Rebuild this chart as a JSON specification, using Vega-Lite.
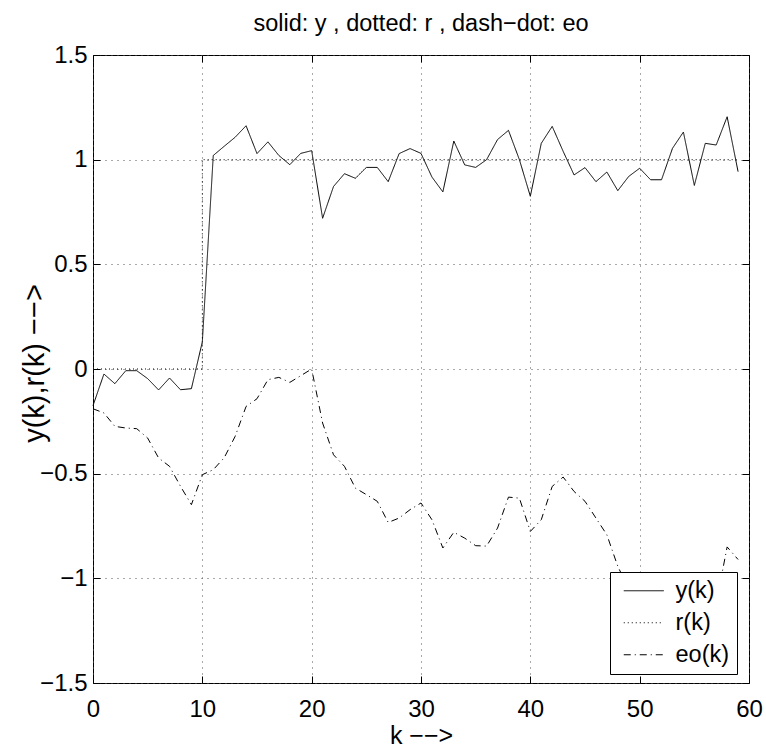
{
  "$schema": "https://vega.github.io/schema/vega-lite/v6.json",
  "width": 656,
  "height": 628,
  "autosize": {"type": "none"},
  "padding": {"left": 93, "top": 55, "right": 17, "bottom": 66},
  "background": "white",
  "title": {"text": "solid: y , dotted: r , dash\u2212dot: eo", "fontSize": 23.5, "font": "Liberation Sans", "fontWeight": "normal", "color": "black", "offset": 8, "anchor": "middle"},
  "config": {
    "font": "Liberation Sans",
    "view": {"stroke": "black", "strokeWidth": 1},
    "axis": {
      "domain": false,
      "tickColor": "black",
      "tickSize": -7,
      "labelFontSize": 24,
      "labelColor": "black",
      "labelFont": "Liberation Sans",
      "titleFont": "Liberation Sans",
      "titleFontSize": 25,
      "titleFontWeight": "normal",
      "titleColor": "black",
      "gridColor": "#555555",
      "gridDash": [1, 5],
      "gridWidth": 1
    }
  },
  "datasets": {
    "series": [
      {"k":0,"series":"y(k)","value":-0.175},{"k":1,"series":"y(k)","value":-0.024},{"k":2,"series":"y(k)","value":-0.07},{"k":3,"series":"y(k)","value":-0.008},{"k":4,"series":"y(k)","value":-0.008},{"k":5,"series":"y(k)","value":-0.046},{"k":6,"series":"y(k)","value":-0.1},{"k":7,"series":"y(k)","value":-0.043},{"k":8,"series":"y(k)","value":-0.099},{"k":9,"series":"y(k)","value":-0.094},
      {"k":10,"series":"y(k)","value":0.13},{"k":11,"series":"y(k)","value":1.02},{"k":12,"series":"y(k)","value":1.064},{"k":13,"series":"y(k)","value":1.107},{"k":14,"series":"y(k)","value":1.162},{"k":15,"series":"y(k)","value":1.029},{"k":16,"series":"y(k)","value":1.085},{"k":17,"series":"y(k)","value":1.02},{"k":18,"series":"y(k)","value":0.976},{"k":19,"series":"y(k)","value":1.03},
      {"k":20,"series":"y(k)","value":1.043},{"k":21,"series":"y(k)","value":0.72},{"k":22,"series":"y(k)","value":0.872},{"k":23,"series":"y(k)","value":0.933},{"k":24,"series":"y(k)","value":0.911},{"k":25,"series":"y(k)","value":0.963},{"k":26,"series":"y(k)","value":0.963},{"k":27,"series":"y(k)","value":0.895},{"k":28,"series":"y(k)","value":1.029},{"k":29,"series":"y(k)","value":1.053},
      {"k":30,"series":"y(k)","value":1.03},{"k":31,"series":"y(k)","value":0.917},{"k":32,"series":"y(k)","value":0.846},{"k":33,"series":"y(k)","value":1.089},{"k":34,"series":"y(k)","value":0.975},{"k":35,"series":"y(k)","value":0.963},{"k":36,"series":"y(k)","value":1.0},{"k":37,"series":"y(k)","value":1.096},{"k":38,"series":"y(k)","value":1.14},{"k":39,"series":"y(k)","value":1.0},
      {"k":40,"series":"y(k)","value":0.825},{"k":41,"series":"y(k)","value":1.078},{"k":42,"series":"y(k)","value":1.159},{"k":43,"series":"y(k)","value":1.04},{"k":44,"series":"y(k)","value":0.927},{"k":45,"series":"y(k)","value":0.962},{"k":46,"series":"y(k)","value":0.895},{"k":47,"series":"y(k)","value":0.941},{"k":48,"series":"y(k)","value":0.852},{"k":49,"series":"y(k)","value":0.92},
      {"k":50,"series":"y(k)","value":0.959},{"k":51,"series":"y(k)","value":0.904},{"k":52,"series":"y(k)","value":0.904},{"k":53,"series":"y(k)","value":1.054},{"k":54,"series":"y(k)","value":1.132},{"k":55,"series":"y(k)","value":0.877},{"k":56,"series":"y(k)","value":1.078},{"k":57,"series":"y(k)","value":1.07},{"k":58,"series":"y(k)","value":1.205},{"k":59,"series":"y(k)","value":0.943},
      {"k":0,"series":"eo(k)","value":-0.19},{"k":1,"series":"eo(k)","value":-0.21},{"k":2,"series":"eo(k)","value":-0.274},{"k":3,"series":"eo(k)","value":-0.282},{"k":4,"series":"eo(k)","value":-0.285},{"k":5,"series":"eo(k)","value":-0.33},{"k":6,"series":"eo(k)","value":-0.425},{"k":7,"series":"eo(k)","value":-0.465},{"k":8,"series":"eo(k)","value":-0.56},{"k":9,"series":"eo(k)","value":-0.648},
      {"k":10,"series":"eo(k)","value":-0.505},{"k":11,"series":"eo(k)","value":-0.481},{"k":12,"series":"eo(k)","value":-0.424},{"k":13,"series":"eo(k)","value":-0.322},{"k":14,"series":"eo(k)","value":-0.179},{"k":15,"series":"eo(k)","value":-0.142},{"k":16,"series":"eo(k)","value":-0.051},{"k":17,"series":"eo(k)","value":-0.04},{"k":18,"series":"eo(k)","value":-0.064},{"k":19,"series":"eo(k)","value":-0.032},
      {"k":20,"series":"eo(k)","value":0.0},{"k":21,"series":"eo(k)","value":-0.258},{"k":22,"series":"eo(k)","value":-0.41},{"k":23,"series":"eo(k)","value":-0.465},{"k":24,"series":"eo(k)","value":-0.569},{"k":25,"series":"eo(k)","value":-0.6},{"k":26,"series":"eo(k)","value":-0.632},{"k":27,"series":"eo(k)","value":-0.733},{"k":28,"series":"eo(k)","value":-0.712},{"k":29,"series":"eo(k)","value":-0.672},
      {"k":30,"series":"eo(k)","value":-0.64},{"k":31,"series":"eo(k)","value":-0.72},{"k":32,"series":"eo(k)","value":-0.855},{"k":33,"series":"eo(k)","value":-0.78},{"k":34,"series":"eo(k)","value":-0.808},{"k":35,"series":"eo(k)","value":-0.844},{"k":36,"series":"eo(k)","value":-0.846},{"k":37,"series":"eo(k)","value":-0.76},{"k":38,"series":"eo(k)","value":-0.612},{"k":39,"series":"eo(k)","value":-0.617},
      {"k":40,"series":"eo(k)","value":-0.776},{"k":41,"series":"eo(k)","value":-0.72},{"k":42,"series":"eo(k)","value":-0.561},{"k":43,"series":"eo(k)","value":-0.516},{"k":44,"series":"eo(k)","value":-0.585},{"k":45,"series":"eo(k)","value":-0.632},{"k":46,"series":"eo(k)","value":-0.712},{"k":47,"series":"eo(k)","value":-0.792},{"k":48,"series":"eo(k)","value":-0.943},{"k":49,"series":"eo(k)","value":-1.05},
      {"k":50,"series":"eo(k)","value":-1.1},{"k":51,"series":"eo(k)","value":-1.12},{"k":52,"series":"eo(k)","value":-1.08},{"k":53,"series":"eo(k)","value":-1.1},{"k":54,"series":"eo(k)","value":-1.15},{"k":55,"series":"eo(k)","value":-1.1},{"k":56,"series":"eo(k)","value":-1.05},{"k":57,"series":"eo(k)","value":-1.12},{"k":58,"series":"eo(k)","value":-0.85},{"k":59,"series":"eo(k)","value":-0.91},
      {"k":0,"series":"r(k)","value":0},{"k":1,"series":"r(k)","value":0},{"k":2,"series":"r(k)","value":0},{"k":3,"series":"r(k)","value":0},{"k":4,"series":"r(k)","value":0},{"k":5,"series":"r(k)","value":0},{"k":6,"series":"r(k)","value":0},{"k":7,"series":"r(k)","value":0},{"k":8,"series":"r(k)","value":0},{"k":9,"series":"r(k)","value":0},
      {"k":10,"series":"r(k)","value":1},{"k":11,"series":"r(k)","value":1},{"k":12,"series":"r(k)","value":1},{"k":13,"series":"r(k)","value":1},{"k":14,"series":"r(k)","value":1},{"k":15,"series":"r(k)","value":1},{"k":16,"series":"r(k)","value":1},{"k":17,"series":"r(k)","value":1},{"k":18,"series":"r(k)","value":1},{"k":19,"series":"r(k)","value":1},
      {"k":20,"series":"r(k)","value":1},{"k":21,"series":"r(k)","value":1},{"k":22,"series":"r(k)","value":1},{"k":23,"series":"r(k)","value":1},{"k":24,"series":"r(k)","value":1},{"k":25,"series":"r(k)","value":1},{"k":26,"series":"r(k)","value":1},{"k":27,"series":"r(k)","value":1},{"k":28,"series":"r(k)","value":1},{"k":29,"series":"r(k)","value":1},
      {"k":30,"series":"r(k)","value":1},{"k":31,"series":"r(k)","value":1},{"k":32,"series":"r(k)","value":1},{"k":33,"series":"r(k)","value":1},{"k":34,"series":"r(k)","value":1},{"k":35,"series":"r(k)","value":1},{"k":36,"series":"r(k)","value":1},{"k":37,"series":"r(k)","value":1},{"k":38,"series":"r(k)","value":1},{"k":39,"series":"r(k)","value":1},
      {"k":40,"series":"r(k)","value":1},{"k":41,"series":"r(k)","value":1},{"k":42,"series":"r(k)","value":1},{"k":43,"series":"r(k)","value":1},{"k":44,"series":"r(k)","value":1},{"k":45,"series":"r(k)","value":1},{"k":46,"series":"r(k)","value":1},{"k":47,"series":"r(k)","value":1},{"k":48,"series":"r(k)","value":1},{"k":49,"series":"r(k)","value":1},
      {"k":50,"series":"r(k)","value":1},{"k":51,"series":"r(k)","value":1},{"k":52,"series":"r(k)","value":1},{"k":53,"series":"r(k)","value":1},{"k":54,"series":"r(k)","value":1},{"k":55,"series":"r(k)","value":1},{"k":56,"series":"r(k)","value":1},{"k":57,"series":"r(k)","value":1},{"k":58,"series":"r(k)","value":1},{"k":59,"series":"r(k)","value":1}
    ]
  },
  "data": {"name": "series"},
  "layer": [
    {
      "transform": [{"filter": "datum.series === 'r(k)'"}],
      "mark": {"type": "line", "interpolate": "step-after", "color": "black", "strokeWidth": 1},
      "encoding": {
        "x": {"field": "k", "type": "quantitative", "scale": {"domain": [0, 60], "nice": false},
              "axis": {"orient": "top", "values": [0,10,20,30,40,50,60], "labels": false, "title": null, "grid": false}},
        "y": {"field": "value", "type": "quantitative", "scale": {"domain": [-1.5, 1.5], "nice": false},
              "axis": {"orient": "right", "values": [-1.5,-1,-0.5,0,0.5,1,1.5], "labels": false, "title": null, "grid": false}},
        "strokeDash": {"field": "series", "type": "nominal",
              "scale": {"domain": ["y(k)", "r(k)", "eo(k)"], "range": [[1, 0], [1, 3], [7, 4, 1, 4]]}}
      }
    },
    {
      "transform": [{"filter": "datum.series !== 'r(k)'"}],
      "mark": {"type": "line", "color": "black", "strokeWidth": 1},
      "encoding": {
        "x": {"field": "k", "type": "quantitative", "scale": {"domain": [0, 60], "nice": false},
              "axis": {"orient": "bottom", "values": [0,10,20,30,40,50,60], "title": "k  \u2212\u2212>", "labelPadding": 21, "titlePadding": 2, "labelFlush": false, "grid": true}},
        "y": {"field": "value", "type": "quantitative", "scale": {"domain": [-1.5, 1.5], "nice": false},
              "axis": {"orient": "left", "values": [-1.5,-1,-0.5,0,0.5,1,1.5], "format": ".1~f", "title": "y(k),r(k)  \u2212\u2212>", "titleFontSize": 29, "titleX": -59, "titleY": 308, "titleBaseline": "middle", "labelPadding": 13, "labelFlush": false, "grid": true}},
        "strokeDash": {"field": "series", "type": "nominal",
              "scale": {"domain": ["y(k)", "r(k)", "eo(k)"], "range": [[1, 0], [1, 3], [7, 4, 1, 4]]},
              "legend": {"orient": "none", "legendX": 517, "legendY": 517, "title": null,
                         "symbolType": "M-2,0H2", "symbolSize": 400, "symbolStrokeWidth": 1, "symbolStrokeColor": "black", "symbolFillColor": "transparent",
                         "labelFontSize": 23.5, "labelColor": "black", "labelFont": "Liberation Sans", "labelOffset": 20,
                         "labelExpr": "datum.label + '\u00a0\u00a0\u00a0'",
                         "rowPadding": 7, "padding": 7, "symbolOffset": 15, "strokeColor": "black", "fillColor": "white",
                         "values": ["y(k)", "r(k)", "eo(k)"]}}
      }
    }
  ],
  "resolve": {"axis": {"x": "independent", "y": "independent"}}
}
